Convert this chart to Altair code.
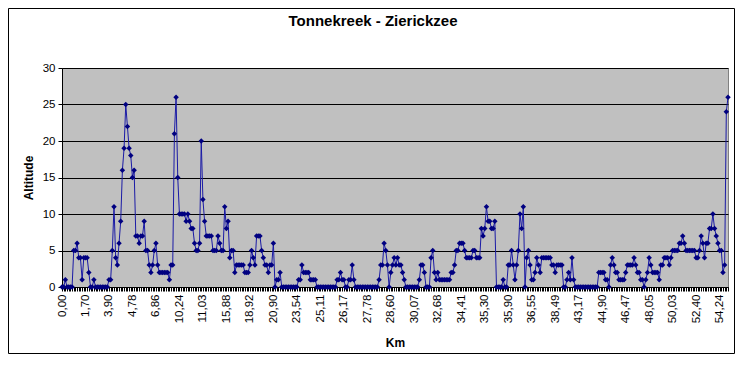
import altair as alt
import pandas as pd

# Category labels shown on the x axis (every 14th point)
km_labels = ["0,00", "1,70", "3,90", "4,78", "6,86", "10,24", "11,03", "15,88",
             "18,92", "20,90", "23,54", "25,11", "26,17", "27,78", "28,60",
             "30,07", "32,68", "34,41", "35,30", "35,90", "36,55", "38,49",
             "43,17", "44,90", "46,47", "48,05", "50,03", "52,40", "54,24"]
label_step = 14

# Altitude values, in order along the route
alt_seg1 = [0, 0, 1, 0, 0, 0, 0, 5, 5, 6, 4, 4, 1, 4, 4, 4, 2, 0, 0, 1,
            0, 0, 0, 0, 0, 0, 0, 0, 1, 1, 5, 11, 4, 3, 6, 9, 16, 19, 25, 22,
            19, 18, 15, 16, 7]
alt_seg2 = [7, 6, 7, 7, 9, 5, 5, 3, 2, 3, 5, 6, 3, 2, 2, 2, 2, 2, 2, 1,
            3, 3, 21, 26, 15, 10, 10, 10, 10, 9, 10, 9, 8, 8, 6, 5, 5, 6, 20, 12,
            9, 7, 7, 7, 7, 5, 5, 5, 7, 6, 5, 5, 11, 8, 9, 4]
alt_seg3 = [5, 5, 2, 3, 3, 3, 3, 3, 2, 2, 2, 3, 5, 4, 3, 7, 7, 7, 5, 4,
            3, 3, 2, 3, 3, 6, 0, 1, 1, 2, 0, 0, 0, 0, 0, 0, 0, 0, 0, 0,
            1, 1, 3, 2, 2, 2, 2, 1, 1, 1, 1, 0, 0, 0, 0, 0, 0, 0, 0, 0,
            0, 0, 0, 1, 1, 2, 1, 1, 0, 0, 1, 1, 3, 1, 0, 0, 0, 0, 0, 0,
            0, 0, 0, 0, 0, 0, 0, 0, 1, 3, 3, 6, 5, 3, 0]
alt_seg4 = [2, 3, 4, 3, 4, 3, 3, 2, 1, 0, 0, 0, 0, 0, 0, 0, 0, 1, 3, 3,
            2, 0, 0, 0, 4, 5, 2, 1, 2, 1, 1, 1, 1, 1, 1, 1, 2, 2, 3, 5,
            5, 6, 6, 6, 5, 4, 4, 4, 4, 5, 5, 4, 4, 4, 8, 7, 8, 11, 9, 9,
            8, 8, 9, 0, 0, 0, 0, 1, 0, 0, 3, 3, 5, 3, 1, 3, 5, 10, 8, 11,
            0, 4, 5, 3, 1, 1, 2, 4, 3, 2, 4, 4, 4, 4, 4, 4]
alt_seg5 = [3, 3, 2, 3, 3, 3, 3, 0, 0, 1, 2, 1, 4, 1, 0, 0, 0, 0, 0, 0,
            0, 0, 0, 0, 0, 0, 0, 0, 2, 2, 2, 2, 1, 1, 0, 3, 4, 3, 2, 2,
            1, 1, 1, 1, 2, 3, 3, 3, 3, 4, 3, 2, 2, 1, 1, 0, 1, 2, 4, 3,
            2, 2, 2, 2, 1, 3, 3, 4, 4, 4, 3, 4, 5, 5, 5, 5, 6, 6, 7, 6,
            5, 5, 5, 5, 5, 5, 4, 4, 5, 7, 6, 4, 6, 6, 8, 8, 10, 8, 7, 6,
            5, 5, 2, 3, 24, 26]

altitude = alt_seg1 + alt_seg2 + alt_seg3 + alt_seg4 + alt_seg5
df = pd.DataFrame({"idx": list(range(len(altitude))), "altitude": altitude})

arr = "[" + ",".join("'" + s + "'" for s in km_labels) + "]"
label_expr = ("datum.value % " + str(label_step) + " === 0 ? " + arr +
              "[datum.value / " + str(label_step) + "] : ''")

W, H = 666, 219
PL, PT, PR, PB = 54, 60, 7, 67
FONT = "Liberation Sans"

x = alt.X(
    "idx:O",
    scale=alt.Scale(type="point", padding=0),
    axis=alt.Axis(
        title="Km", labelExpr=label_expr, labelAngle=270, labelOverlap=False,
        labelFontSize=11.5, labelPadding=3, tickSize=4, tickColor="black",
        domainColor="black", labelColor="black", labelFont=FONT,
        titleFont=FONT, titleFontSize=12, titleFontWeight="bold",
        titleY=55, titleBaseline="middle", grid=False,
    ),
)
y = alt.Y(
    "altitude:Q",
    scale=alt.Scale(domain=[0, 30], nice=False),
    axis=alt.Axis(
        title="Altitude", values=[0, 5, 10, 15, 20, 25, 30], grid=True,
        gridColor="black", gridOpacity=1, gridWidth=1, tickSize=4,
        tickColor="black", domainColor="black", labelColor="black",
        labelFont=FONT, labelFontSize=11.5, labelPadding=3,
        titleFont=FONT, titleFontSize=12, titleFontWeight="bold",
        titleX=-34, titleY=H / 2, titleAlign="center", titleBaseline="middle",
    ),
)

series = alt.Chart(df).mark_line(
    color="#1a1aa6", strokeWidth=1,
    point=alt.OverlayMarkDef(shape="diamond", filled=True, size=30, color="#000080"),
).encode(x=x, y=y)

frame = alt.Chart(pd.DataFrame({"f": [0]})).mark_rect(
    filled=False, stroke="black", strokeWidth=1
).encode(
    x=alt.value(-PL + 0.5), x2=alt.value(W + PR - 0.5),
    y=alt.value(-PT + 0.5), y2=alt.value(H + PB - 0.5),
)

chart = alt.layer(series, frame).properties(
    width=W, height=H,
    title=alt.TitleParams("Tonnekreek - Zierickzee", font=FONT, fontSize=15,
                          fontWeight="bold", offset=0, dx=-22, dy=28,
                          baseline="middle", color="black"),
    autosize=alt.AutoSizeParams(type="none"),
    padding={"left": PL, "top": PT, "right": PR, "bottom": PB},
).configure(
    background="white"
).configure_view(
    fill="#C0C0C0", stroke="#808080", strokeWidth=1
)

chart.save("out.html", embed_options={"renderer": "svg", "actions": False})
